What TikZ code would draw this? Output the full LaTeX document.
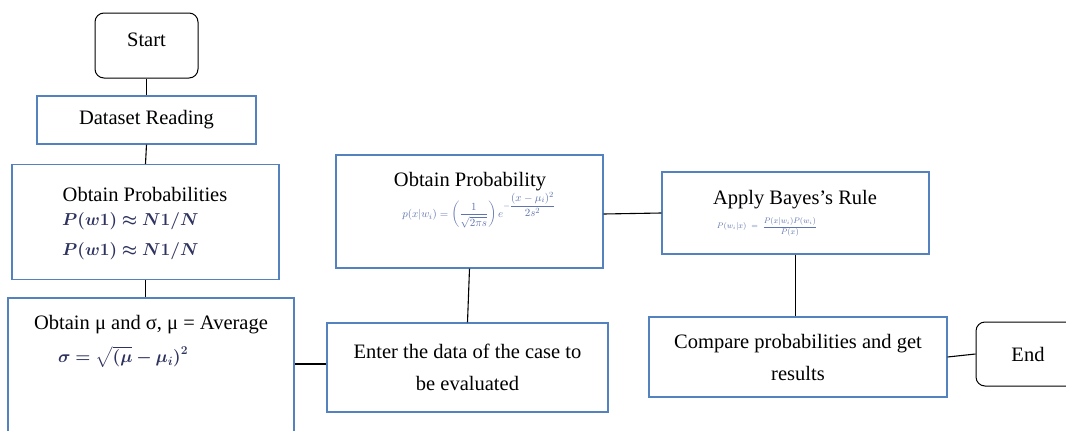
\documentclass[tikz,border=0pt]{standalone}
\usepackage{fontspec}
\setmainfont{Liberation Serif}
\usepackage{amsmath,bm}
\definecolor{boxblue}{RGB}{84,130,190}
\definecolor{mathc}{RGB}{45,50,95}
\definecolor{mathl}{RGB}{95,115,175}
\begin{document}
\begin{tikzpicture}[x=1pt,y=-1pt,
  bx/.style={draw=boxblue,line width=1.1pt,rectangle,inner sep=0pt,align=center,font=\fontsize{20.5}{32}\selectfont},
  rb/.style={draw=black,line width=1pt,rounded corners=9pt,rectangle,inner sep=0pt,align=center,font=\fontsize{20.5}{32}\selectfont},
  tx/.style={inner sep=0pt,font=\fontsize{20.5}{32}\selectfont},
  fm/.style={inner sep=0pt,anchor=west,text=mathc,font=\fontsize{19}{24}\selectfont},
  fs/.style={inner sep=0pt,text=mathl},
  ln/.style={draw=black,line width=1.1pt}]
\clip (0,0) rectangle (1066,431);
\fill[white] (0,0) rectangle (1066,431);
% boxes
\node[rb,minimum width=103pt,minimum height=65pt] (start) at (146.5,45.5) {};
\node[tx] (starttx) at (146.5,40) {Start};
\node[bx,minimum width=219pt,minimum height=48pt] (ds) at (146.5,120) {Dataset Reading};
\node[bx,minimum width=267pt,minimum height=115pt] (op) at (145.5,222) {};
\node[tx] (optx) at (145,194) {Obtain Probabilities};
\node[fm] (opf1) at (62,221) {$\bm{P(w1)\approx N1/N}$};
\node[fm] (opf2) at (62,251) {$\bm{P(w1)\approx N1/N}$};
\node[bx,minimum width=286pt,minimum height=164pt] (mu) at (151,380) {};
\node[tx] (mutx) at (151,325) {Obtain μ and σ, μ = Average};
\node[fm,font=\fontsize{17}{22}\selectfont] (muf) at (58,357) {$\bm{\sigma = \sqrt{(\mu}-\mu_i)^2}$};
\node[bx,minimum width=267pt,minimum height=113pt] (pb) at (469.5,211.5) {};
\node[tx] (pbtx) at (470,182) {Obtain Probability};
\node[fs,font=\fontsize{11}{13}\selectfont] (pbf) at (479,210) {$p(x|w_i)=\left(\dfrac{1}{\sqrt{2\pi s}}\right)e^{-\dfrac{(x-\mu_i)^2}{2s^2}}$};
\node[bx,minimum width=267pt,minimum height=82pt] (ap) at (795.5,213) {};
\node[tx] (aptx) at (795,200) {Apply Bayes’s Rule};
\node[fs,font=\fontsize{7.8}{9}\selectfont] (apf) at (767,227) {$P(w_i|x)\;=\;\dfrac{P(x|w_i)P(w_i)}{P(x)}$};
\node[bx,minimum width=281pt,minimum height=89pt] (en) at (467.5,367.5) {Enter the data of the case to\\be evaluated};
\node[bx,minimum width=298pt,minimum height=80pt] (cm) at (798,357) {Compare probabilities and get\\results};
\node[rb,minimum width=104pt,minimum height=64pt] (end) at (1028,354) {End};
% connectors
\draw[ln] (start.south) -- (ds.north);
\draw[ln] (ds.south) -- (op.north);
\draw[ln] (op.south) -- (op.south |- mu.north);
\draw[ln] ([yshift=3.5pt]en.west) -- ([yshift=3.5pt]en.west -| mu.east);
\draw[ln] (en.north) -- (pb.south);
\draw[ln] ([yshift=-2.5pt]pb.east) -- (ap.west);
\draw[ln] (ap.south) -- (ap.south |- cm.north);
\draw[ln] (cm.east) -- (end.west);
\end{tikzpicture}
\end{document}
